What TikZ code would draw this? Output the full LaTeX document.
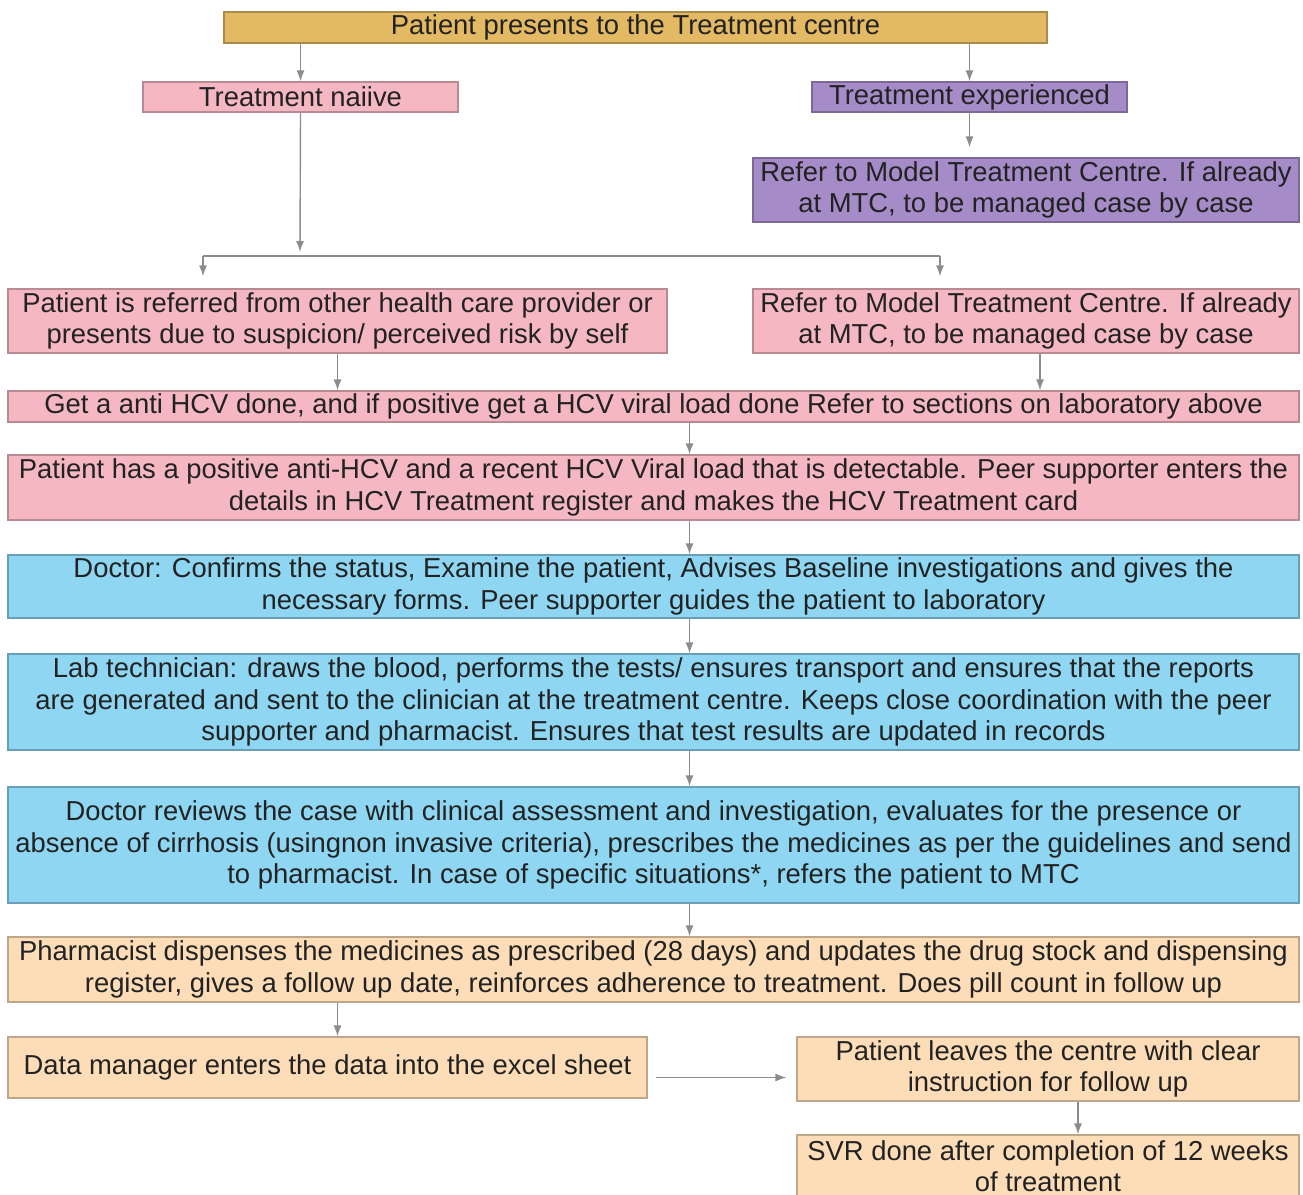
\documentclass[tikz,border=0pt]{standalone}
\usepackage{fontspec}
\setmainfont{Liberation Sans}
\usetikzlibrary{arrows.meta}
\definecolor{goldbox}{HTML}{E3BA63}
\definecolor{pinkbox}{HTML}{F5B8C3}
\definecolor{purplebox}{HTML}{A58CC8}
\definecolor{bluebox}{HTML}{8ED6F2}
\definecolor{peachbox}{HTML}{FCDDB8}
\definecolor{linegray}{HTML}{8C8C8C}
\definecolor{textdark}{HTML}{222222}
\tikzset{
  box/.style={draw=#1!75!black, fill=#1, line width=0.6pt, inner sep=0pt, align=center,
    text=textdark, font=\fontsize{13.7}{15.7}\selectfont},
  link/.style={draw=linegray, line width=0.7pt, -{Latex[length=5.5pt,width=4pt]}},
}
\begin{document}
\begin{tikzpicture}[x=0.5pt, y=-0.5pt]
				\useasboundingbox (0,0) rectangle (1303,1195);
				\clip (0,0) rectangle (1303,1195);
				
				% eintritt
				\node[box=goldbox, minimum width=411.5pt, minimum height=15.5pt] (start) at (635.5,27.5) {Patient presents to the Treatment centre};
				\node[box=pinkbox, minimum width=157.5pt, minimum height=15pt] (naive) at (300.5,97) {Treatment naiive};
				\node[box=purplebox, minimum width=157.5pt, minimum height=15pt] (exper) at (969.5,97) {Treatment experienced};
				\node[box=purplebox, minimum width=273pt, minimum height=32pt] (mtcA) at (1026,190) {Refer to Model Treatment Centre. If already\\at MTC, to be managed case by case};
				
				% verzweigung
				\node[box=pinkbox, minimum width=329.5pt, minimum height=32pt] (referred) at (337.5,321) {Patient is referred from other health care provider or\\presents due to suspicion/ perceived risk by self};
				\node[box=pinkbox, minimum width=273pt, minimum height=32pt] (mtcB) at (1026,321) {Refer to Model Treatment Centre. If already\\at MTC, to be managed case by case};
				\coordinate (split) at (300,256);
				\coordinate (barL) at (203,256);
				\coordinate (barR) at (940,256);
				
				% hauptkette
				\node[box=pinkbox, minimum width=645.5pt, minimum height=15.5pt] (antihcv) at (653.5,406.5) {Get a anti HCV done, and if positive get a HCV viral load done Refer to sections on laboratory above};
				\node[box=pinkbox, minimum width=645.5pt, minimum height=32.5pt] (positive) at (653.5,487.5) {Patient has a positive anti-HCV and a recent HCV Viral load that is detectable. Peer supporter enters the\\details in HCV Treatment register and makes the HCV Treatment card};
				\node[box=bluebox, minimum width=645.5pt, minimum height=31.5pt] (doctorA) at (653.5,586.5) {Doctor: Confirms the status, Examine the patient, Advises Baseline investigations and gives the\\necessary forms. Peer supporter guides the patient to laboratory};
				\node[box=bluebox, minimum width=645.5pt, minimum height=48pt] (labtech) at (653.5,702) {Lab technician: draws the blood, performs the tests/ ensures transport and ensures that the reports\\are generated and sent to the clinician at the treatment centre. Keeps close coordination with the peer\\supporter and pharmacist. Ensures that test results are updated in records};
				\node[box=bluebox, minimum width=645.5pt, minimum height=58pt] (doctorB) at (653.5,845) {Doctor reviews the case with clinical assessment and investigation, evaluates for the presence or\\absence of cirrhosis (usingnon invasive criteria), prescribes the medicines as per the guidelines and send\\to pharmacist. In case of specific situations*, refers the patient to MTC};
				\node[box=peachbox, minimum width=645.5pt, minimum height=32.5pt] (pharma) at (653.5,969.5) {Pharmacist dispenses the medicines as prescribed (28 days) and updates the drug stock and dispensing\\register, gives a follow up date, reinforces adherence to treatment. Does pill count in follow up};
				
				% abschluss
				\node[box=peachbox, minimum width=319.5pt, minimum height=30.5pt] (datamgr) at (327.5,1067.5) {Data manager enters the data into the excel sheet};
				\node[box=peachbox, minimum width=251pt, minimum height=32pt] (leaves) at (1048,1069) {Patient leaves the centre with clear\\instruction for follow up};
				\node[box=peachbox, minimum width=251pt, minimum height=31pt] (svr) at (1048,1166) {SVR done after completion of 12 weeks\\of treatment};
				
				% pfeile
				\draw[link] (naive.north |- start.south) -- (naive.north);
				\draw[link] (exper.north |- start.south) -- (exper.north);
				\draw[link, shorten >=5pt] (exper.south) -- (exper.south |- mtcA.north);
				\draw[link, shorten >=2pt] (naive.south) -- (split);
				\draw[draw=linegray, line width=0.7pt] (barL) -- (barR);
				\draw[link, shorten >=6pt] (barL) -- (barL |- referred.north);
				\draw[link, shorten >=6pt] (barR) -- (barR |- mtcB.north);
				\draw[link] (referred.south) -- (referred.south |- antihcv.north);
				\draw[link] ([xshift=7pt]mtcB.south) -- ([xshift=7pt]mtcB.south |- antihcv.north);
				\foreach \from/\to in {antihcv/positive, positive/doctorA, doctorA/labtech, labtech/doctorB, doctorB/pharma}
					\draw[link] ([xshift=18pt]\from.south) -- ([xshift=18pt]\to.north);
				\draw[link] ([xshift=5pt]pharma.south -| datamgr.north) -- ([xshift=5pt]datamgr.north);
				\draw[link, shorten <=4pt, shorten >=5pt] ([yshift=-5pt]datamgr.east) -- ([yshift=-5pt]datamgr.east -| leaves.west);
				\draw[link] ([xshift=15pt]leaves.south) -- ([xshift=15pt]svr.north);
			\end{tikzpicture}
\end{document}
